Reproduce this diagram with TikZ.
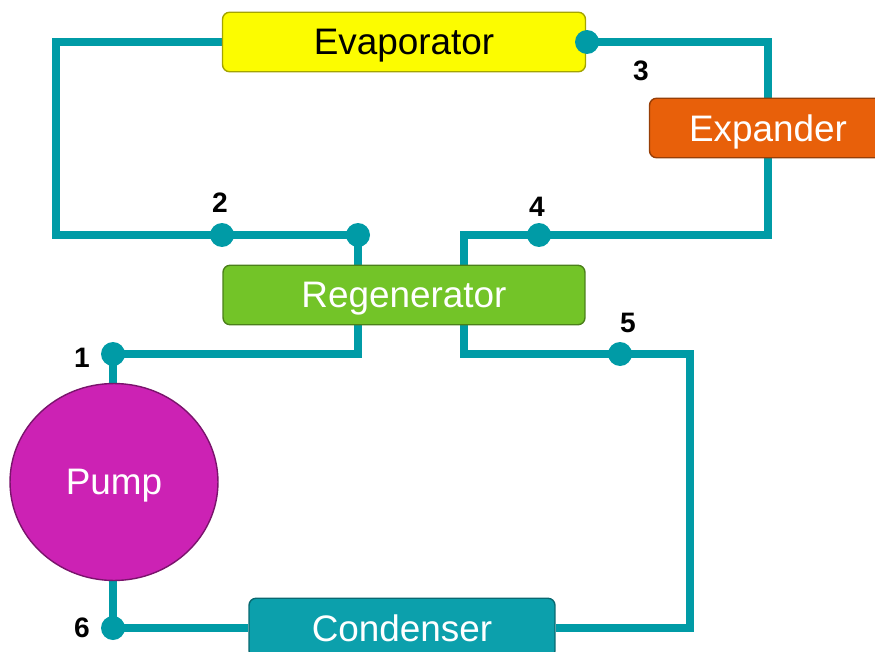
\documentclass[tikz,border=0pt]{standalone}
\usepackage{fontspec}
\setmainfont{Liberation Sans}
\usepackage{xcolor}
\usetikzlibrary{positioning,backgrounds,shapes.geometric}
\definecolor{pipec}{RGB}{0,155,166}
\definecolor{evapc}{RGB}{252,252,0}
\definecolor{expc}{RGB}{232,96,10}
\definecolor{regc}{RGB}{115,196,40}
\definecolor{condc}{RGB}{12,160,172}
\definecolor{pumpc}{RGB}{204,34,180}

\begin{document}
\begin{tikzpicture}[
  x=0.02cm, y=-0.02cm,
  every node/.style={font=\fontsize{21}{25}\selectfont},
  unit/.style={draw=#1!65!black, line width=0.8pt, rounded corners=4pt, fill=#1,
               inner sep=0pt, minimum height=1.19cm, text depth=0pt, text=white},
  pump/.style={draw=pumpc!60!black, line width=0.8pt, shape=ellipse, fill=pumpc,
               minimum width=4.16cm, minimum height=3.94cm, inner sep=0pt,
               text depth=0pt, text=white},
  pipe/.style={draw=pipec, line width=4.2pt},
  dot/.style={circle, fill=pipec, minimum size=0.48cm, inner sep=0pt},
  num/.style={font=\fontsize{16}{19}\selectfont\bfseries},
]
\clip (0,0) rectangle (875,652);
% Components
\node[unit=evapc, text=black, minimum width=7.26cm] (evap) at (404,42) {Evaporator};
\node[unit=expc, minimum width=4.74cm] (exp) at (768,128) {Expander};
\node[unit=regc, minimum width=7.24cm] (regen) at (404,295) {Regenerator};
\node[unit=condc, minimum width=6.12cm] (cond) at (402,628) {Condenser};
\node[pump] (pump) at (114,482) {Pump};

% State points
\node[dot] (p1) at (113,354) {};
\node[dot] (p2) at (222,235) {};
\node[dot] (p3) at (587,42) {};
\node[dot] (p4) at (539,235) {};
\node[dot] (p5) at (620,354) {};
\node[dot] (p6) at (113,628) {};
\node[dot] (t2) at (358,235) {};

\node[num] (n1) at (82,358) {1};
\node[num] (n2) at (220,203) {2};
\node[num] (n3) at (641,71) {3};
\node[num] (n4) at (537,207) {4};
\node[num] (n5) at (628,323) {5};
\node[num] (n6) at (82,628) {6};

% Pipes
\coordinate (kA) at (56,235);
\coordinate (t4) at (464,235);
\coordinate (t5) at (464,354);
\coordinate (t1) at (358,354);
\coordinate (kD) at (690,354);
\begin{scope}[on background layer]
  \draw[pipe] (evap.west) -| (kA) -- (p2.center) -- (t2.center) -- (t2 |- regen.north);
  \draw[pipe] (p3.center) -| (exp.north);
  \draw[pipe] (exp.south) |- (p4.center) -- (t4) -- (t4 |- regen.north);
  \draw[pipe] (t5 |- regen.south) -- (t5) -- (p5.center) -- (kD) |- (cond.east);
  \draw[pipe] (t1 |- regen.south) -- (t1) -- (p1.center) -- (p1 |- pump.north);
  \draw[pipe] (p6 |- pump.south) -- (p6.center) -- (cond.west);
\end{scope}
\end{tikzpicture}
\end{document}
